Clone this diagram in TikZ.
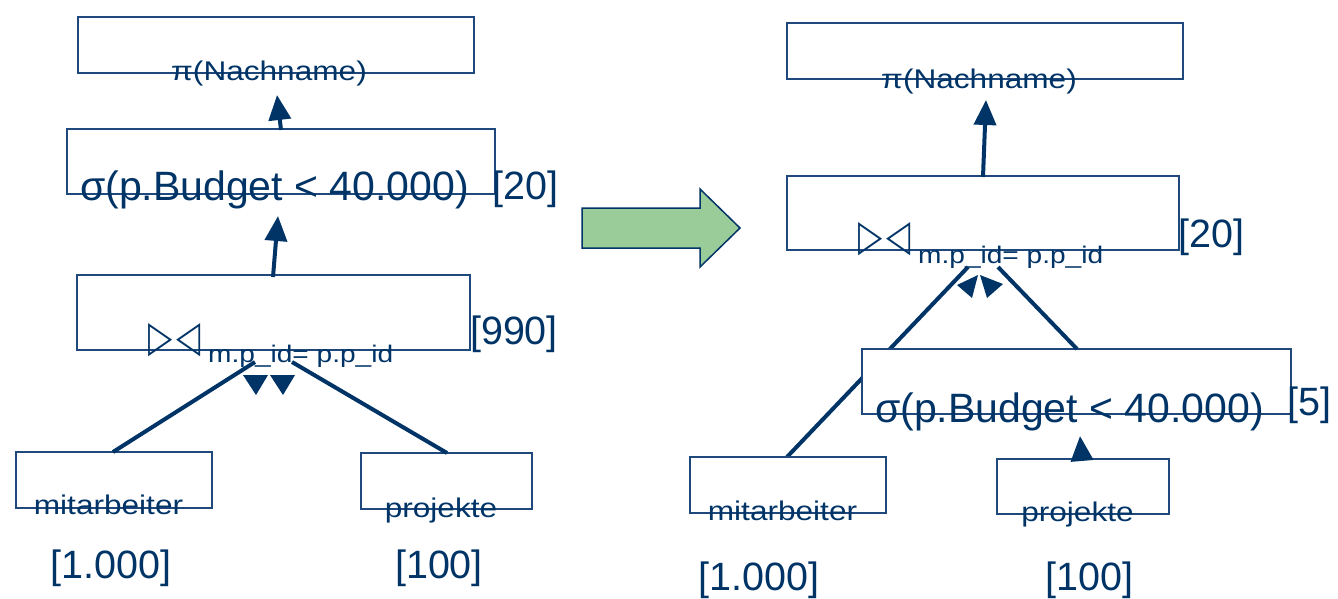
\documentclass[tikz,border=0pt]{standalone}
\usepackage{fontspec}
\setmainfont{Liberation Sans}
\newfontfamily\labf[FakeStretch=1.17]{Liberation Sans}
\newfontfamily\symf{DejaVu Sans}
\usetikzlibrary{arrows.meta}
\definecolor{navy}{RGB}{0,51,102}
\definecolor{boxc}{RGB}{31,73,125}
\definecolor{arrgreen}{RGB}{153,204,153}
\newcommand{\jtri}[1]{\scalebox{1.05}[1.45]{#1}}
\begin{document}
\begin{tikzpicture}[x=1pt,y=-1pt,
  box/.style={draw=boxc, line width=1.6pt, fill=white, inner sep=0pt},
  conn/.style={draw=navy, line width=4pt},
  upar/.style={conn, -{Triangle[width=22pt,length=25pt]}},
  tri/.style={fill=navy},
  lab/.style={anchor=base, inner sep=0pt, text=navy, font=\labf\fontsize{27}{27}\selectfont},
  big/.style={anchor=base, inner sep=0pt, text=navy, font=\fontsize{39.5}{40}\selectfont},
  bigs/.style={anchor=base, inner sep=0pt, text=navy, font=\fontsize{41}{41}\selectfont},
  sub/.style={anchor=base west, inner sep=0pt, text=navy, font=\labf\fontsize{24}{24}\selectfont},
  joinsym/.style={anchor=base west, inner sep=0pt, text=navy, font=\symf\fontsize{30}{30}\selectfont},
]
\useasboundingbox (0,0) rectangle (1338,598);

% ---------- right tree: line hidden behind the selection box
\coordinate (l2a) at (787,457);
\coordinate (l2b) at (968,267);
\draw[conn] (l2a) -- (l2b);

% ---------- boxes
\node[box, minimum width=396, minimum height=56] (p1) at (276,45) {};
\node[box, minimum width=428, minimum height=65] (s1) at (281,161.5) {};
\node[box, minimum width=393, minimum height=75] (j1) at (273.5,312.5) {};
\node[box, minimum width=196, minimum height=56] (m1) at (114,480) {};
\node[box, minimum width=171, minimum height=56] (r1) at (446.5,481) {};

\node[box, minimum width=396, minimum height=56] (p2) at (985,51) {};
\node[box, minimum width=392, minimum height=74] (j2) at (983,213) {};
\node[box, minimum width=429, minimum height=65] (s2) at (1076.5,381.5) {};
\node[box, minimum width=196, minimum height=56] (m2) at (788,485) {};
\node[box, minimum width=172, minimum height=55] (r2) at (1083,486.5) {};

% ---------- green arrow
\draw[draw=navy, line width=1.5pt, fill=arrgreen]
  (582,208) -- (700,208) -- (700,189) -- (740,228) -- (700,267) -- (700,248) -- (582,248) -- cycle;

% ---------- left connectors
\coordinate (a1s) at (281,130);
\coordinate (a1e) at (277,95);
\draw[upar] (a1s) -- (a1e);
\coordinate (a2s) at (273,277);
\coordinate (a2e) at (278,216);
\draw[upar] (a2s) -- (a2e);
\coordinate (l1a) at (113,452);
\coordinate (l1b) at (255,362);
\draw[conn] (l1a) -- (l1b);
\coordinate (l1c) at (447,453);
\coordinate (l1d) at (292,362);
\draw[conn] (l1c) -- (l1d);
\fill[tri] (243,375) -- (268,375) -- (256,395) -- cycle;
\fill[tri] (270,375) -- (295,375) -- (283,395) -- cycle;

% ---------- right connectors
\coordinate (a3s) at (983,177);
\coordinate (a3e) at (986,100);
\draw[upar] (a3s) -- (a3e);
\coordinate (a4s) at (1082,460);
\coordinate (a4e) at (1080,436);
\draw[upar] (a4s) -- (a4e);
\coordinate (l2c) at (1077,349);
\coordinate (l2d) at (998,267);
\draw[conn] (l2c) -- (l2d);
\fill[tri] (978,275) -- (957,285) -- (972,298) -- cycle;
\fill[tri] (980,275) -- (1003,284) -- (987,298) -- cycle;

% ---------- left texts
\node[lab] (tp1) at (269,80) {π(Nachname)};
\node[bigs] (ts1) at (274.5,200) {σ(p.Budget < 40.000)};
\node[big] (c20a) at (525.5,199) {[20]};
\node[big] (c990) at (514,344) {[990]};
\node[joinsym] (js1) at (148,351) {\jtri{▷}\hspace{4pt}\jtri{◁}};
\node[sub] (sub1) at (208,362) {m.p\_id= p.p\_id};
\node[lab] (tm1) at (108.5,514) {mitarbeiter};
\node[lab] (tr1) at (441,517) {projekte};
\node[big] (n1) at (111,578) {[1.000]};
\node[big] (n2) at (439,578) {[100]};

% ---------- right texts
\node[lab] (tp2) at (979,88) {π(Nachname)};
\node[big] (c20b) at (1211.5,247) {[20]};
\node[joinsym] (js2) at (858,250) {\jtri{▷}\hspace{4pt}\jtri{◁}};
\node[sub] (sub2) at (918,263) {m.p\_id= p.p\_id};
\node[bigs] (ts2) at (1069.5,422) {σ(p.Budget < 40.000)};
\node[big] (c5) at (1309,415) {[5]};
\node[lab] (tm2) at (782.5,520) {mitarbeiter};
\node[lab] (tr2) at (1077.5,521) {projekte};
\node[big] (n3) at (759,590) {[1.000]};
\node[big] (n4) at (1089.5,590) {[100]};
\end{tikzpicture}
\end{document}
